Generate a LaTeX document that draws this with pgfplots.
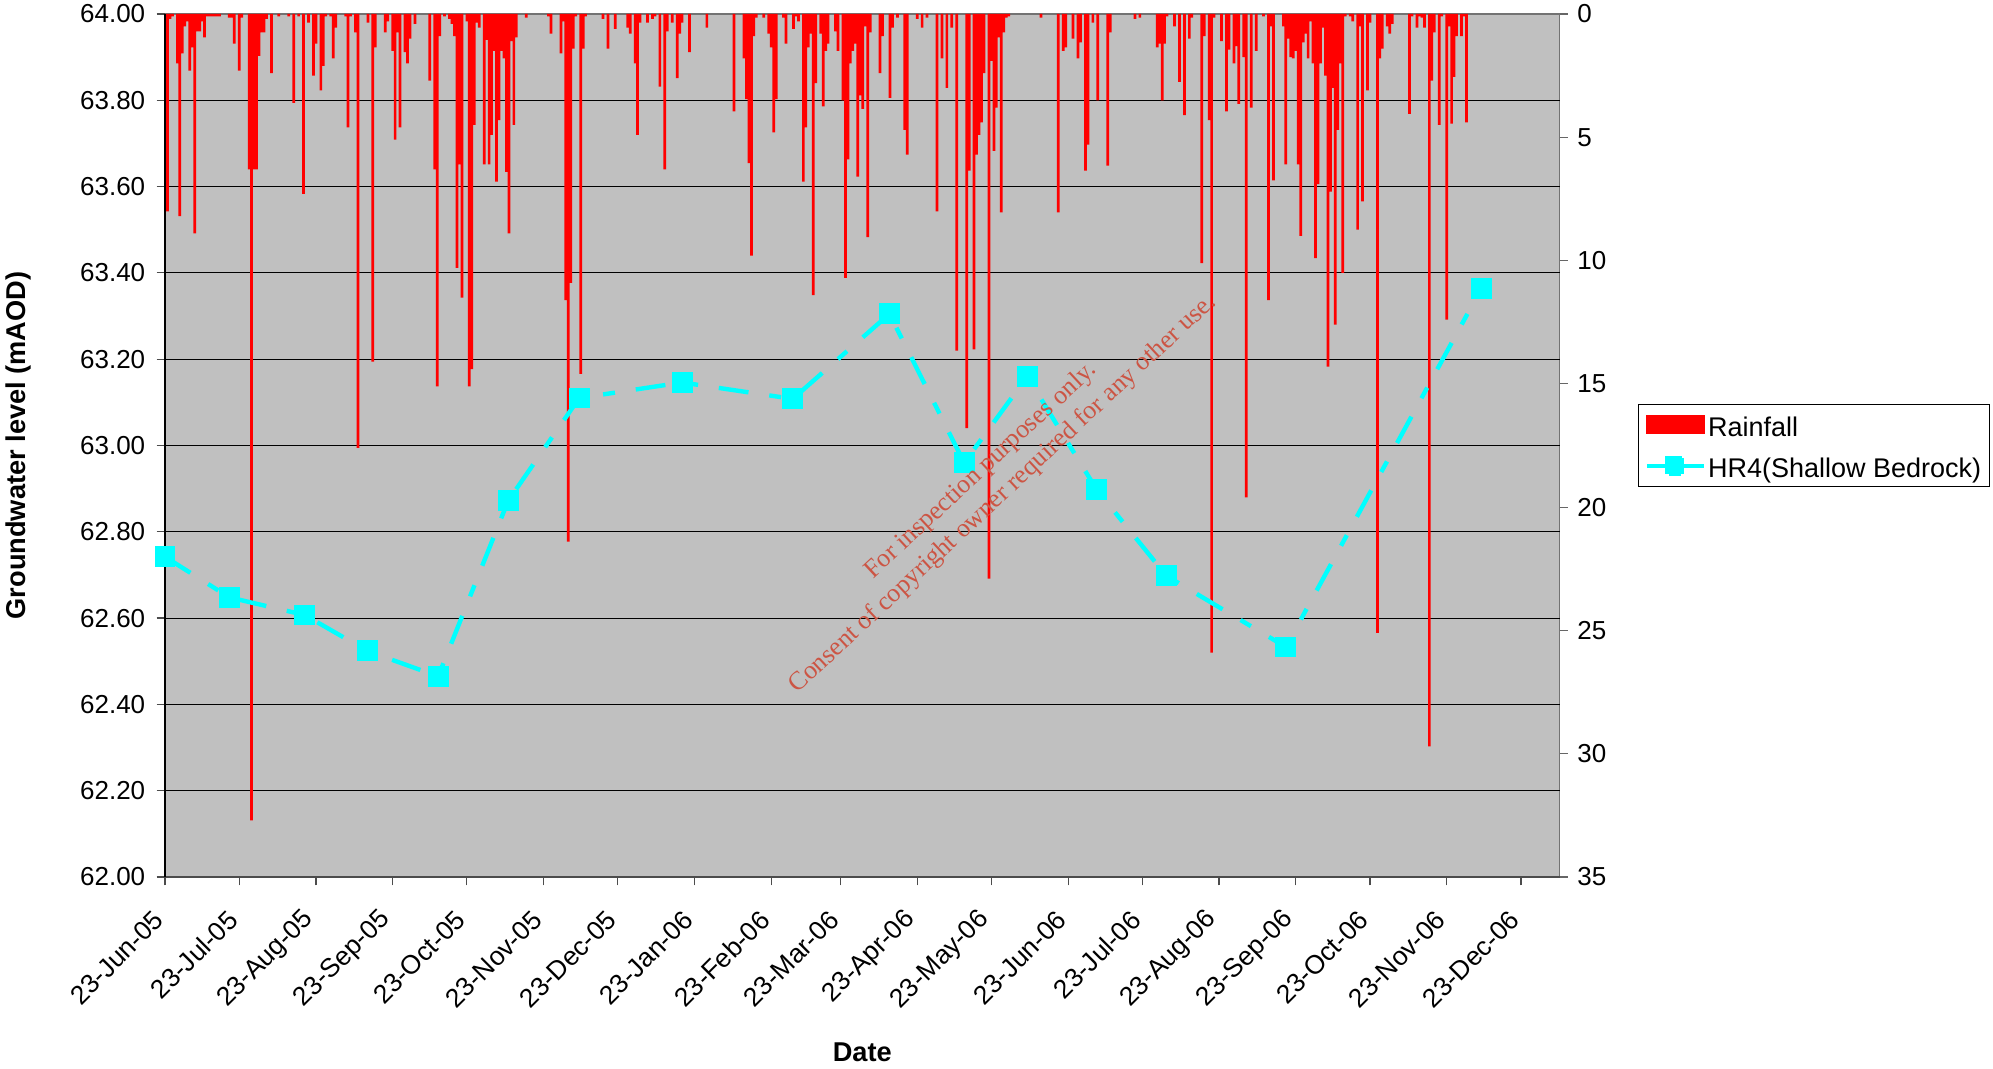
\documentclass[border=0pt]{standalone}
\usepackage{fontspec}
\setmainfont{Liberation Sans}
\newfontfamily\wmfont{Liberation Serif}
\usepackage{pgfplots}
\pgfplotsset{compat=1.18}
\usepackage{pgfplotstable}

\definecolor{plotbg}{RGB}{192,192,192}
\definecolor{wmred}{RGB}{204,85,68}
\definecolor{hrcyan}{RGB}{0,255,255}
\definecolor{rainred}{RGB}{255,0,0}

% daily rainfall (mm); day 0 = 23-Jun-2005
\pgfplotstableread{
day mm
0 0.3
1 8.0
2 0.2
3 0.1
5 2.0
6 8.2
7 1.6
8 0.5
9 0.3
10 2.3
11 1.35
12 8.9
13 0.7
14 0.7
15 0.3
16 0.95
17 0.1
18 0.1
19 0.1
20 0.1
21 0.1
22 0.1
26 0.15
27 0.15
28 1.2
30 2.3
31 0.15
34 6.3
35 32.7
36 6.3
37 6.3
38 1.7
39 0.75
40 0.75
41 0.2
43 2.4
46 0.1
50 0.1
52 3.6
54 0.1
56 7.3
58 0.35
60 2.5
61 1.2
63 3.1
64 2.1
65 0.1
67 0.1
68 1.8
69 0.55
73 0.1
74 4.6
75 0.1
77 0.75
78 17.6
82 0.35
84 14.1
85 1.35
89 0.75
90 0.3
92 1.5
93 5.1
94 0.75
95 4.6
97 1.55
98 2.0
99 1.0
101 0.4
107 2.7
109 6.3
110 15.1
111 0.9
113 0.1
115 0.2
116 0.4
117 0.9
118 10.3
119 6.1
120 11.5
122 0.3
123 15.1
124 14.4
125 4.5
126 0.35
127 0.55
129 6.1
130 1.05
131 6.1
132 4.9
133 1.5
134 6.8
135 4.3
136 1.5
137 1.8
138 6.4
139 8.9
140 1.1
141 4.5
142 0.95
146 0.15
155 0.1
156 0.8
160 1.6
161 0.3
162 11.6
163 21.4
164 10.9
165 1.4
166 0.1
168 14.6
169 1.4
170 0.1
177 0.2
179 1.4
182 0.6
187 0.55
188 0.8
190 2.0
191 4.9
192 0.35
195 0.35
197 0.2
198 0.1
200 2.95
202 6.3
203 0.7
205 0.35
207 2.6
208 0.8
209 0.35
212 1.55
219 0.55
230 3.95
234 1.8
235 3.45
236 6.05
237 9.8
238 0.9
239 0.15
242 0.15
244 0.8
245 1.35
246 4.8
247 3.45
250 0.15
251 1.2
254 0.6
255 0.1
256 0.3
258 6.8
259 4.6
260 1.35
261 0.8
262 11.4
263 2.8
265 0.8
266 3.75
267 1.5
268 1.2
271 0.7
272 1.5
274 3.5
275 10.7
276 5.9
277 2.0
278 1.5
279 1.2
280 6.6
281 3.3
282 3.85
283 0.5
284 9.05
285 0.75
289 2.4
290 0.9
293 3.4
294 0.55
296 0.15
299 4.7
300 5.7
304 0.2
306 0.55
308 0.15
312 8.0
314 1.8
316 3.0
318 0.55
320 13.65
324 16.8
325 6.35
327 13.6
328 5.7
329 4.9
330 4.4
331 2.4
333 22.9
334 1.9
335 5.55
336 3.8
337 0.95
338 8.05
339 0.75
340 0.15
341 0.1
354 0.15
361 8.05
363 1.5
364 1.35
367 1.0
369 1.8
370 1.15
372 6.35
373 5.3
375 0.35
377 3.5
381 6.15
382 0.75
392 0.2
394 0.15
401 1.35
402 1.2
403 3.5
404 1.2
405 0.1
408 0.5
410 2.75
412 4.1
414 1.0
415 0.15
419 10.1
420 0.9
422 4.3
423 25.9
424 0.15
427 1.1
429 3.95
430 1.45
432 2.0
433 1.3
434 3.65
436 1.75
437 19.6
439 3.8
441 1.5
444 0.1
446 11.6
447 0.5
448 6.75
452 0.5
453 6.1
454 1.0
455 1.75
456 1.8
457 1.5
458 6.1
459 9.0
460 1.15
461 0.8
462 1.8
463 0.3
464 2.0
465 9.9
466 6.9
467 2.0
468 0.55
469 2.5
470 14.3
471 7.2
472 3.0
473 12.6
474 4.7
475 2.0
476 10.5
477 0.1
479 0.1
480 0.3
482 8.75
483 0.5
484 7.6
486 3.1
487 0.35
490 25.1
491 1.8
492 1.4
494 0.5
495 0.8
496 0.4
503 4.05
504 0.1
506 0.55
507 0.1
508 0.15
509 0.55
511 29.7
512 2.7
513 0.75
515 4.5
516 0.1
518 12.4
519 0.5
520 4.45
521 2.55
522 0.9
524 0.9
525 0.1
526 4.4
}\rainfall

% groundwater level at HR4 (mAOD)
\pgfplotstableread{
day level
0 62.742
26 62.648
56.5 62.607
81.7 62.524
110.4 62.465
138.7 62.872
167.4 63.110
209 63.146
253.7 63.108
292.8 63.305
323 62.960
348.5 63.160
376.5 62.898
404.7 62.698
453 62.533
532 63.364
}\hrfour

\begin{document}
\begin{tikzpicture}
\path[use as bounding box] (0,0) rectangle (996.5pt,534.5pt);

% rainfall on the secondary (right, reversed) axis
\begin{axis}[
  at={(82.5pt,96pt)}, anchor=south west,
  width=697.25pt, height=431.5pt, scale only axis,
  xmin=0, xmax=563.6, ymin=0, ymax=35, y dir=reverse,
  axis background/.style={fill=plotbg},
  axis line style={draw=black!55, line width=0.7pt},
  xtick=\empty,
  ytick={0,5,10,15,20,25,30,35},
  yticklabels={0,5,10,15,20,25,30,35},
  ytick pos=right, yticklabel pos=right,
  tick align=outside,
  major tick length=4.2pt,
  tick style={draw=black!60, line width=0.6pt},
  yticklabel style={font=\fontsize{13}{15}\selectfont, inner sep=0pt, xshift=4.5pt},
  extra y ticks={3.5,7,10.5,14,17.5,21,24.5,28,31.5},
  extra y tick labels={},
  extra y tick style={grid=major, major grid style={black, line width=0.5pt}, major tick length=0pt},
]
\addplot[ybar, bar width=1.1, fill=rainred, draw=none] table[x=day, y=mm] {\rainfall};
\end{axis}

% groundwater level on the primary axis
\begin{axis}[
  at={(82.5pt,96pt)}, anchor=south west,
  width=697.25pt, height=431.5pt, scale only axis,
  xmin=0, xmax=563.6, ymin=62, ymax=64,
  axis x line*=bottom, axis y line*=left,
  axis line style={-},
  x axis line style={draw=black!70, line width=1pt},
  y axis line style={draw=black, line width=0.6pt},
  tick align=outside,
  major tick length=4.2pt,
  tick style={draw=black!70, line width=0.6pt},
  xtick={0,30,61,92,122,153,183,214,245,273,304,334,365,395,426,457,487,518,548},
  xticklabels={23-Jun-05,23-Jul-05,23-Aug-05,23-Sep-05,23-Oct-05,23-Nov-05,23-Dec-05,23-Jan-06,23-Feb-06,23-Mar-06,23-Apr-06,23-May-06,23-Jun-06,23-Jul-06,23-Aug-06,23-Sep-06,23-Oct-06,23-Nov-06,23-Dec-06},
  xticklabel style={xshift=-3pt, yshift=-15pt, rotate=45, anchor=east, inner sep=0pt, font=\fontsize{13.2}{15}\selectfont},
  ytick={62,62.2,62.4,62.6,62.8,63,63.2,63.4,63.6,63.8,64},
  yticklabels={62.00,62.20,62.40,62.60,62.80,63.00,63.20,63.40,63.60,63.80,64.00},
  yticklabel style={font=\fontsize{13}{15}\selectfont, inner sep=0pt, xshift=-5.5pt},
  xlabel={Date}, ylabel={Groundwater level (mAOD)},
  every axis x label/.style={at={(axis description cs:0.5,-0.2028)}, anchor=center, font=\bfseries\fontsize{13.6}{15}\selectfont},
  every axis y label/.style={at={(axis description cs:-0.1054,0.5)}, rotate=90, anchor=center, font=\bfseries\fontsize{13.6}{15}\selectfont},
  legend style={at={(1.0563,0.548)}, anchor=north west, draw=black, line width=0.5pt, fill=white,
    font=\fontsize{13.5}{16}\selectfont, inner xsep=3.3pt, inner ysep=2.6pt, row sep=5.6pt,
    nodes={inner sep=1pt, text depth=0.5pt, text height=12.5pt}},
  legend cell align=left,
]
\addlegendimage{legend image code/.code={\fill[rainred] (0pt,-4.6pt) rectangle (28.8pt,4.6pt);}}
\addlegendentry{Rainfall}
\addplot[hrcyan, line width=2.2pt, dash pattern=on 15pt off 10.5pt on 6pt off 10.5pt,
  mark=square*, mark size=4.1pt, mark options={solid, fill=hrcyan, draw=hrcyan},
  legend image code/.code={\draw[hrcyan, line width=1.7pt, solid] (0pt,0pt) -- (28.8pt,0pt);
    \fill[hrcyan] (10.4pt,-4pt) rectangle (18.4pt,4pt);}]
  table[x=day, y=level] {\hrfour};
\addlegendentry{HR4(Shallow Bedrock)}
\end{axis}

\node[rotate=42.9, align=center, text=wmred, font=\wmfont\fontsize{13}{16}\selectfont]
  at (496pt,293.2pt) {For inspection purposes only.\\Consent of copyright owner required for any other use.};
\end{tikzpicture}
\end{document}
